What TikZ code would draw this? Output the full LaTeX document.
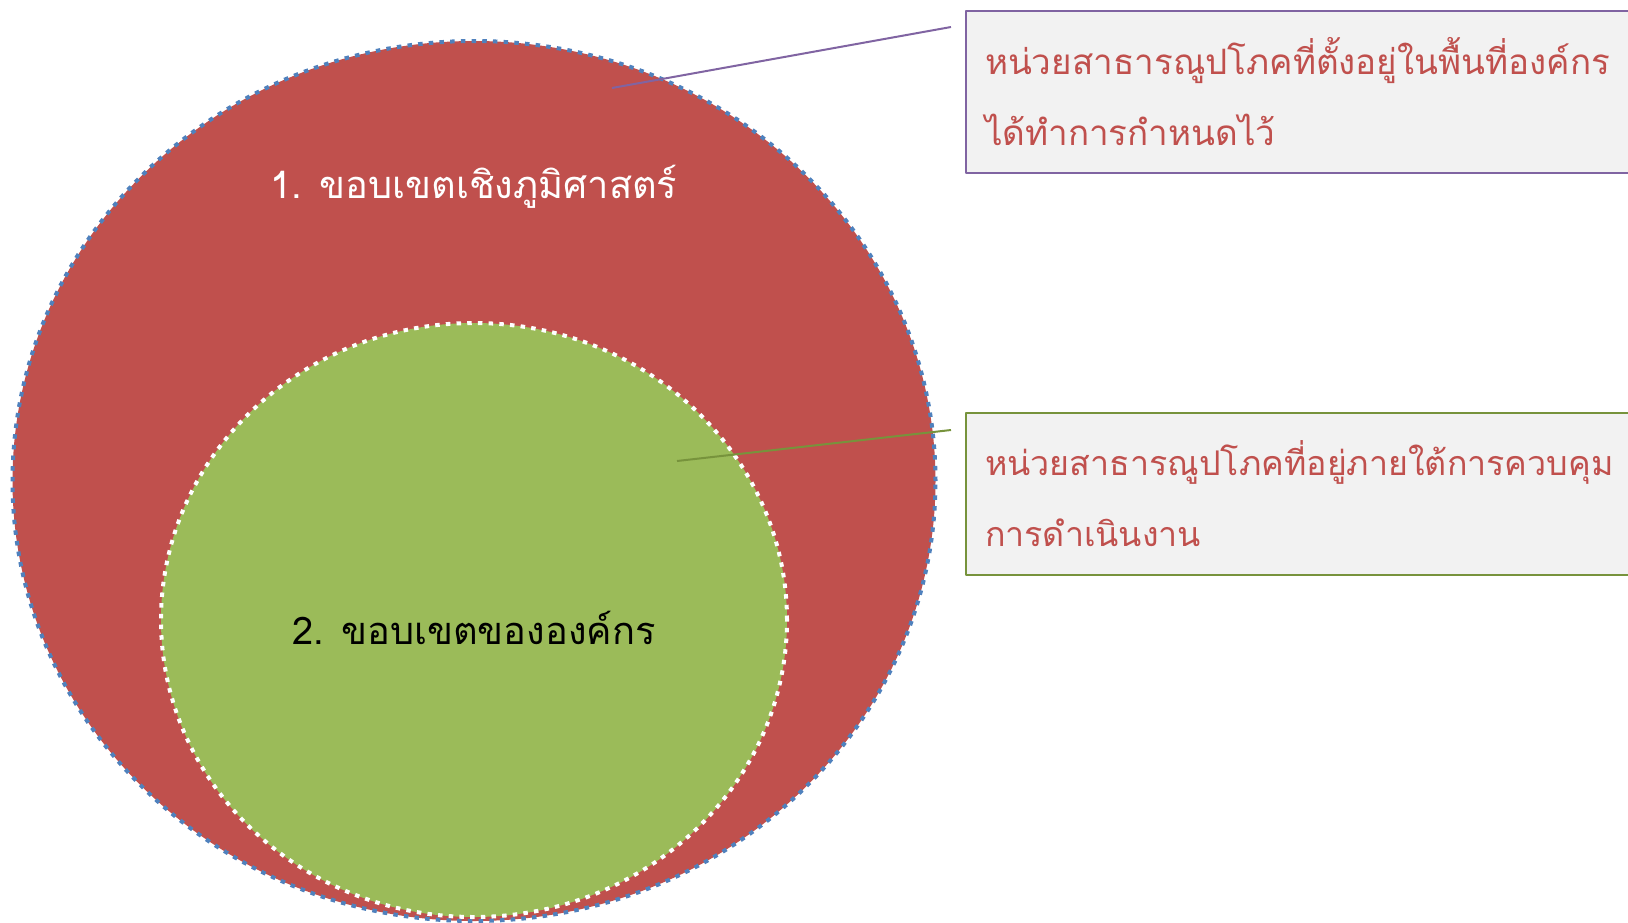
\documentclass[tikz,border=0pt]{standalone}
\usepackage{fontspec}
\newfontfamily\thaifont[Script=Thai]{Loma}
\usetikzlibrary{shapes.geometric}
\definecolor{geored}{HTML}{C0504D}
\definecolor{orggreen}{HTML}{9BBB59}
\definecolor{dotblue}{HTML}{4F81BD}
\definecolor{linepurple}{HTML}{8064A2}
\definecolor{lineolive}{HTML}{77933C}
\definecolor{boxgray}{HTML}{F2F2F2}
\tikzset{
  zone/.style={ellipse, inner sep=0pt, line width=4pt, dash pattern=on 4.5pt off 6.2pt},
  zonetext/.style={font=\thaifont\fontsize{38}{44}\selectfont},
  callbox/.style={anchor=north west, fill=boxgray, line width=2pt, inner xsep=19pt,
    align=left, text=geored, font=\thaifont\fontsize{35}{71}\selectfont},
  callline/.style={line width=2pt},
}

\begin{document}
\begin{tikzpicture}[line cap=butt,line join=round,x=1pt,y=-1pt]
\useasboundingbox (0,0) rectangle (1628,922);
% the two zones
\node[zone, fill=geored, draw=dotblue, minimum width=923pt, minimum height=880pt] (geo) at (474,481) {};
\node[zone, fill=orggreen, draw=white, minimum width=626pt, minimum height=594pt] (org) at (474,620) {};
\node[zonetext, text=white] (geotext) at (474,187) {1. ขอบเขตเชิงภูมิศาสตร์};
\node[zonetext, text=black] (orgtext) at (474,628) {2. ขอบเขตขององค์กร};
% callouts
\node[callbox, draw=linepurple, minimum width=700pt, minimum height=162pt, text width=662pt] (geobox) at (965,10)
  {หน่วยสาธารณูปโภคที่ตั้งอยู่ในพื้นที่องค์กร\\ได้ทำการกำหนดไว้};
\node[callbox, draw=lineolive, minimum width=700pt, minimum height=162pt, text width=662pt,
  font=\thaifont\fontsize{34}{71}\selectfont] (orgbox) at (965,412)
  {หน่วยสาธารณูปโภคที่อยู่ภายใต้การควบคุม\\การดำเนินงาน};
\coordinate (geotip) at (612,88);
\coordinate (geoend) at (951,27);
\coordinate (orgtip) at (677,461);
\coordinate (orgend) at (951,430);
\draw[callline, linepurple] (geotip) -- (geoend);
\draw[callline, lineolive] (orgtip) -- (orgend);
\end{tikzpicture}
\end{document}
